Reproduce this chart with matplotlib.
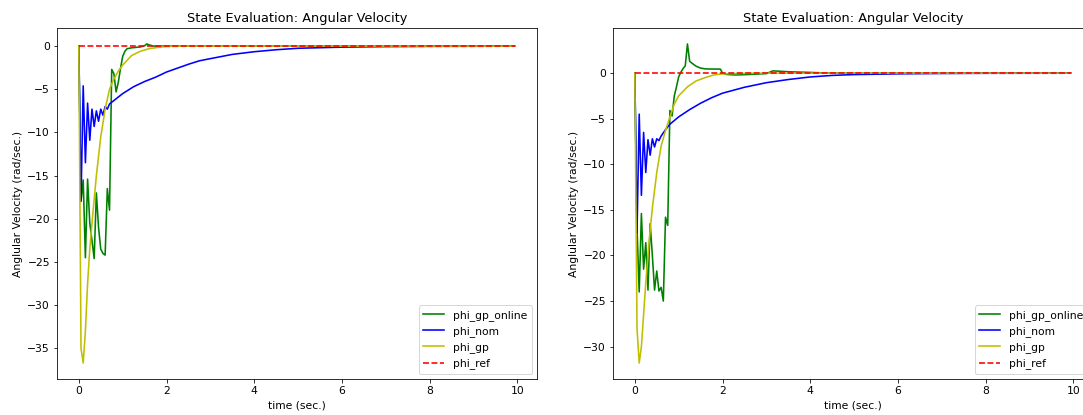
from __future__ import annotations

import matplotlib

matplotlib.use("Agg")
import matplotlib.pyplot as plt


TITLE = "State Evaluation: Angular Velocity"
XLABEL = "time (sec.)"
YLABEL = "Anglular Velocity (rad/sec.)"
LABELS = ["phi_gp_online", "phi_nom", "phi_gp", "phi_ref"]

# left panel
L_ONLINE_T = [0, 0.05, 0.1, 0.15, 0.2, 0.25, 0.3, 0.35, 0.4, 0.45, 0.5, 0.55, 0.6, 0.65,
              0.7, 0.75, 0.8, 0.85, 0.9, 0.95, 1.0, 1.05, 1.1, 1.2, 1.3, 1.4, 1.5, 1.55,
              1.6, 1.7, 2.0, 9.95]
L_ONLINE = [0, -18.0, -15.5, -24.5, -15.4, -20.5, -22.5, -24.6, -17.0, -21.0, -23.5, -24.0,
            -24.2, -16.5, -19.0, -2.7, -3.2, -5.3, -4.2, -2.6, -1.2, -0.6, -0.3, -0.2, -0.15,
            -0.1, 0.05, 0.25, 0.15, 0.0, 0.0, 0.0]

L_NOM_T = [0, 0.05, 0.1, 0.15, 0.2, 0.25, 0.3, 0.35, 0.4, 0.45, 0.5, 0.55, 0.6, 0.65, 0.7,
           0.75, 1.0, 1.25, 1.5, 1.75, 2.0, 2.5, 2.75, 3.0, 3.5, 4.0, 4.5, 5.0, 6.0, 7.0,
           8.0, 9.95]
L_NOM = [0, -17.9, -4.6, -13.5, -6.6, -10.9, -7.3, -9.3, -7.5, -8.7, -7.3, -8.0, -7.0, -7.3,
         -6.7, -6.5, -5.5, -4.7, -4.1, -3.6, -3.0, -2.1, -1.7, -1.45, -0.96, -0.65, -0.42,
         -0.25, -0.12, -0.06, -0.03, -0.01]

L_GP_T = [0, 0.05, 0.1, 0.15, 0.2, 0.25, 0.3, 0.4, 0.5, 0.6, 0.7, 0.8, 0.9, 1.0, 1.2, 1.4,
          1.6, 1.8, 2.0, 2.5, 9.95]
L_GP = [0, -35.0, -36.7, -33.0, -27.5, -23.5, -20.5, -15.0, -10.5, -7.3, -5.0, -3.8, -2.9,
        -2.2, -1.1, -0.6, -0.3, -0.15, -0.05, 0.0, 0.0]

# right panel
R_ONLINE_T = [0, 0.05, 0.1, 0.15, 0.2, 0.25, 0.3, 0.35, 0.4, 0.45, 0.5, 0.55, 0.6, 0.65,
              0.7, 0.75, 0.8, 0.85, 0.9, 0.95, 1.0, 1.05, 1.1, 1.15, 1.2, 1.25, 1.3, 1.4,
              1.5, 1.6, 1.7, 1.8, 1.95, 2.0, 2.1, 2.3, 2.6, 3.0, 3.15, 3.5, 4.0, 4.3, 5.0,
              9.95]
R_ONLINE = [0, -17.0, -24.0, -15.4, -21.5, -18.6, -23.8, -16.5, -20.0, -23.8, -21.7, -23.9,
            -23.5, -25.0, -15.8, -16.7, -4.1, -4.7, -2.5, -1.5, -0.4, 0.1, 0.5, 0.8, 3.2,
            1.3, 1.1, 0.75, 0.55, 0.47, 0.45, 0.45, 0.44, 0.0, -0.15, -0.2, -0.15, -0.05,
            0.25, 0.15, 0.08, 0.02, 0.0, 0.0]

R_NOM_T = [0, 0.05, 0.1, 0.15, 0.2, 0.25, 0.3, 0.35, 0.4, 0.45, 0.5, 0.55, 0.6, 0.7, 0.8,
           1.0, 1.25, 1.5, 1.75, 2.0, 2.5, 3.0, 3.5, 4.0, 4.5, 5.0, 6.0, 7.0, 8.0, 9.95]
R_NOM = [0, -17.5, -4.5, -13.4, -6.5, -10.9, -7.3, -9.0, -7.2, -8.1, -7.2, -7.4, -6.9, -6.2,
         -5.6, -4.8, -4.0, -3.3, -2.7, -2.2, -1.55, -1.05, -0.7, -0.42, -0.25, -0.16, -0.08,
         -0.04, -0.02, -0.01]

R_GP_T = [0, 0.05, 0.1, 0.15, 0.2, 0.25, 0.3, 0.35, 0.4, 0.5, 0.6, 0.7, 0.8, 0.9, 1.0, 1.2,
          1.4, 1.6, 1.8, 2.0, 2.5, 3.0, 9.95]
R_GP = [0, -28.0, -31.8, -30.0, -26.5, -23.0, -20.0, -17.2, -14.8, -10.9, -8.0, -6.3, -4.8,
        -3.4, -2.5, -1.5, -0.85, -0.5, -0.2, -0.08, -0.02, 0.0, 0.0]

REF_T = [0, 9.95]
REF = [0, 0]


def draw_panel(ax, online_t, online, nom_t, nom, gp_t, gp) -> None:
    ax.plot(online_t, online, color="g", label=LABELS[0])
    ax.plot(nom_t, nom, color="b", label=LABELS[1])
    ax.plot(gp_t, gp, color="y", label=LABELS[2])
    ax.plot(REF_T, REF, "r--", label=LABELS[3])
    ax.set_title(TITLE)
    ax.set_xlabel(XLABEL)
    ax.set_ylabel(YLABEL)
    ax.set_xticks([0, 2, 4, 6, 8, 10])
    ax.legend(loc="lower right")


def main() -> None:
    plt.rcParams.update({"font.family": "DejaVu Sans", "font.size": 10.7, "lines.linewidth": 1.6})
    w, h = 1083, 415
    fig = plt.figure(figsize=(w / 72, h / 72), dpi=72)
    ax_l = fig.add_axes([57 / w, 36 / h, 480 / w, 351 / h])
    ax_r = fig.add_axes([613 / w, 36 / h, 480 / w, 351 / h])
    draw_panel(ax_l, L_ONLINE_T, L_ONLINE, L_NOM_T, L_NOM, L_GP_T, L_GP)
    draw_panel(ax_r, R_ONLINE_T, R_ONLINE, R_NOM_T, R_NOM, R_GP_T, R_GP)
    fig.savefig("out.png", dpi=72)
    plt.close(fig)


if __name__ == "__main__":
    main()
